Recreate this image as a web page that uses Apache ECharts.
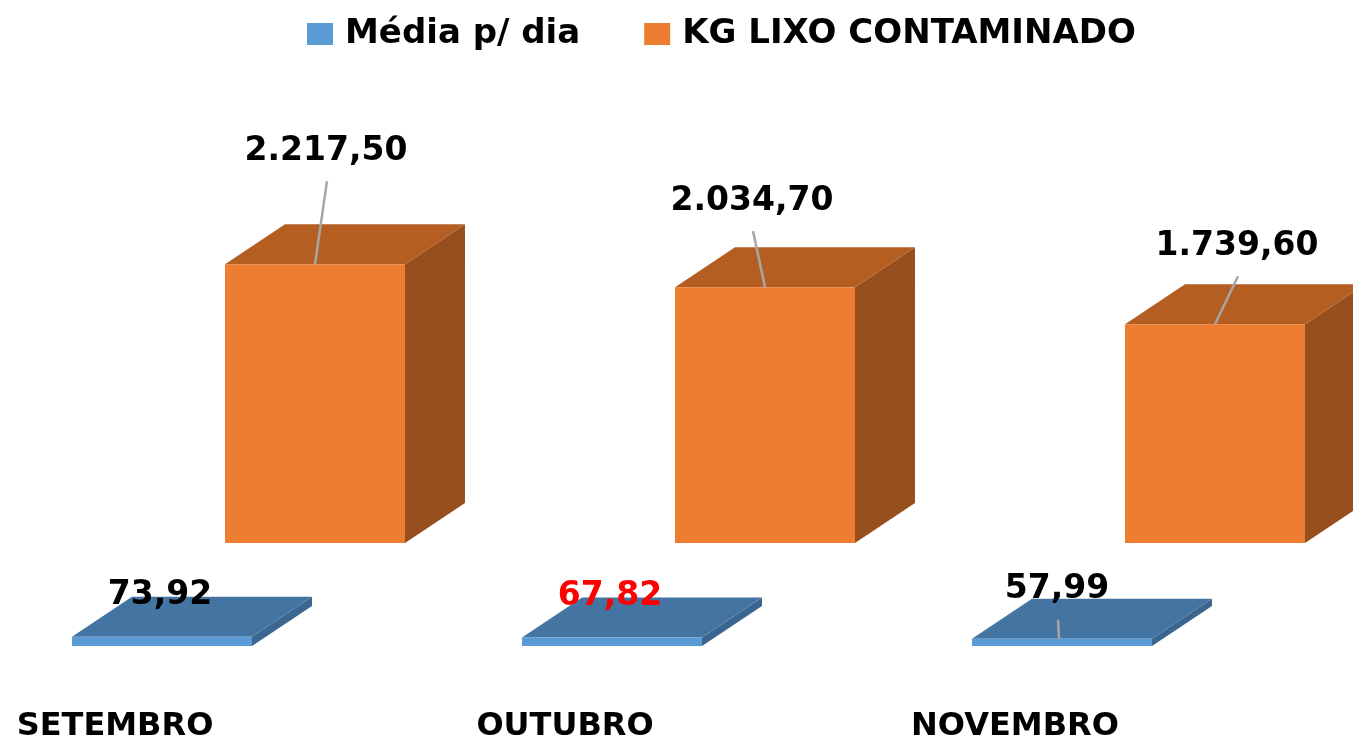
<!DOCTYPE html>
<html>
  <head>
    <meta charset="utf-8" />
    <title>KG lixo contaminado</title>
    <script src="https://cdn.jsdelivr.net/npm/echarts@6/dist/echarts.min.js"></script>
    <style>
      * {
        margin: 0;
        padding: 0;
        box-sizing: border-box;
      }
    </style>
  </head>
  <body>
    <div id="main" style="width: 1353px; height: 743px"></div>
    <script type="text/javascript">
      const months = ["SETEMBRO", "OUTUBRO", "NOVEMBRO"];
      const mediaDia = [73.92, 67.82, 57.99];
      const kgLixo = [2217.5, 2034.7, 1739.6];

      // label positions (moved by hand in the original), relative to bar top
      const kgLabelShift = [[11, -113], [-13, -86], [22, -78]];
      const mediaLabelShift = [[-2, -41], [-2, -41], [-5, -49]];
      const mediaLeader = [false, false, true];
      const mediaLabelColor = ["#000", "#ff0000", "#000"];

      const FONT = '"DejaVu Sans", sans-serif';

      // 2217.5 -> "2.217,50"
      function fmt(v) {
        const parts = v.toFixed(2).split(".");
        parts[0] = parts[0].replace(/\B(?=(\d{3})+(?!\d))/g, ".");
        return parts.join(",");
      }

      var myChart = echarts.init(document.getElementById("main"));

      // row 0 = back row (orange), row 1 = front row (blue)
      function boxRenderer(row, faces, shifts, leaders, labelColors) {
        return function (params, api) {
          const i = api.value(0);
          const top = api.coord([i, api.value(1)]);
          const base = api.coord([i, 0]);
          const band = api.size([1, 0])[0];
          const w = band * 0.4;
          const dx = band * 0.1333;
          const dy = band * 0.0889;
          const x0 = top[0] - row * band * 0.34;
          const sy = row * band * 0.229;
          const yTop = top[1] + sy;
          const yBase = base[1] + sy;

          const cx = x0 + w / 2;
          const lx = cx + shifts[i][0];
          const ly = yTop + shifts[i][1];

          const children = [
            {
              type: "polygon",
              shape: {
                points: [
                  [x0 + w, yTop],
                  [x0 + w + dx, yTop - dy],
                  [x0 + w + dx, yBase - dy],
                  [x0 + w, yBase],
                ],
              },
              style: { fill: faces.side },
            },
            {
              type: "polygon",
              shape: {
                points: [
                  [x0, yTop],
                  [x0 + w, yTop],
                  [x0 + w + dx, yTop - dy],
                  [x0 + dx, yTop - dy],
                ],
              },
              style: { fill: faces.top },
            },
            {
              type: "rect",
              shape: { x: x0, y: yTop, width: w, height: yBase - yTop },
              style: { fill: faces.front },
            },
          ];
          if (leaders[i]) {
            children.push({
              type: "line",
              shape: { x1: lx + 1, y1: ly + 30, x2: cx - row * 3, y2: yTop },
              style: { stroke: "#a6a6a6", lineWidth: 2.5 },
            });
          }
          children.push({
            type: "text",
            style: {
              text: fmt(api.value(1)),
              x: lx,
              y: ly,
              align: "center",
              verticalAlign: "middle",
              fill: labelColors[i],
              font: "bold 33px " + FONT,
            },
          });
          return { type: "group", children: children };
        };
      }

      var option = {
        color: ["#5b9bd5", "#ed7d31"],
        legend: {
          left: 302,
          top: 12,
          icon: "rect",
          itemWidth: 26,
          itemHeight: 22,
          itemGap: 64,
          textStyle: {
            fontFamily: FONT,
            fontWeight: "bold",
            fontSize: 34,
            color: "#000",
            padding: [0, 0, 0, 7],
          },
          data: ["Média p/ dia", "KG LIXO CONTAMINADO"],
        },
        grid: {
          left: 0,
          right: 3,
          top: 40,
          bottom: 200,
          outerBoundsMode: "none",
        },
        xAxis: {
          type: "category",
          data: months,
          axisLine: { show: false },
          axisTick: { show: false },
          splitLine: { show: false },
          axisLabel: {
            interval: 0,
            margin: 168,
            fontFamily: FONT,
            fontSize: 32,
            fontWeight: "bold",
            color: "#000",
            padding: [0, 220, 0, 0],
          },
        },
        yAxis: {
          type: "value",
          min: 0,
          max: 4000,
          show: false,
        },
        series: [
          {
            name: "Média p/ dia",
            type: "custom",
            z: 3,
            itemStyle: { color: "#5b9bd5" },
            renderItem: boxRenderer(
              1,
              { front: "#5b9bd5", top: "#4475a2", side: "#3a668f" },
              mediaLabelShift,
              mediaLeader,
              mediaLabelColor
            ),
            encode: { x: 0, y: 1 },
            data: mediaDia.map((v, i) => [i, v]),
          },
          {
            name: "KG LIXO CONTAMINADO",
            type: "custom",
            z: 2,
            itemStyle: { color: "#ed7d31" },
            renderItem: boxRenderer(
              0,
              { front: "#ed7d31", top: "#b55e22", side: "#974f1e" },
              kgLabelShift,
              [true, true, true],
              ["#000", "#000", "#000"]
            ),
            encode: { x: 0, y: 1 },
            data: kgLixo.map((v, i) => [i, v]),
          },
        ],
      };

      myChart.setOption(option);
    </script>
  </body>
</html>
